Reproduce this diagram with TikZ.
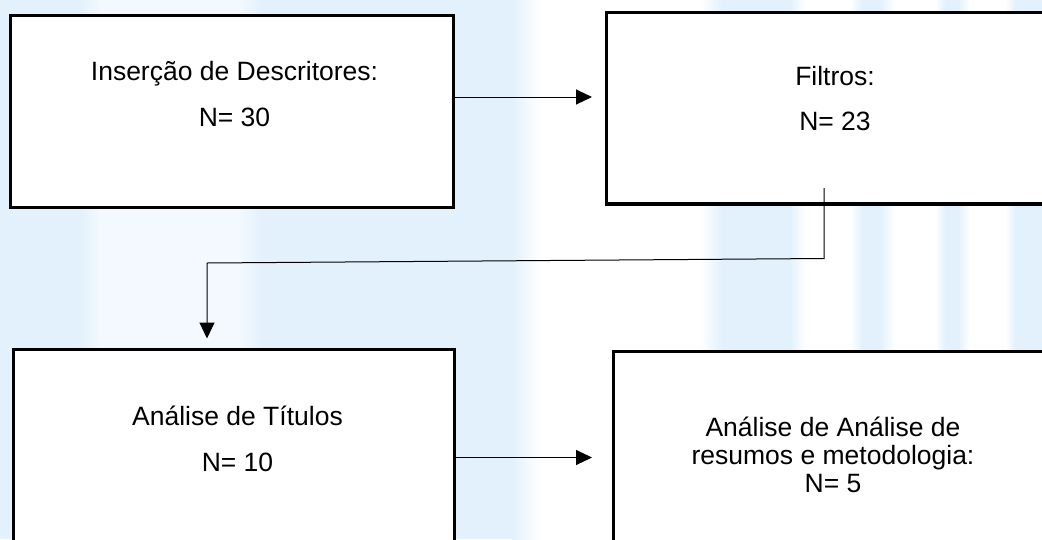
\documentclass[tikz,border=0pt]{standalone}
\usepackage{fontspec}
\setmainfont{Liberation Sans}
\usetikzlibrary{arrows.meta}
\definecolor{bgblue}{HTML}{E3F1FC}
\begin{document}
\begin{tikzpicture}[x=1pt,y=-1pt,
  box/.style={draw=black, line width=3.5pt, fill=white, inner sep=0pt, outer sep=0pt, anchor=north west},
  lbl/.style={align=center, inner sep=0pt, font=\fontsize{26.5pt}{28pt}\selectfont},
  arr/.style={line width=1pt, -{Triangle[length=16pt,width=15pt]}},
  link/.style={line width=1pt}]
\useasboundingbox (0,0) rectangle (1042,539);
\clip (0,0) rectangle (1042,539);
% background watermark
\fill[bgblue] (0,0) rectangle (1042,539);
\shade[left color=bgblue, right color=white] (512,0) rectangle (540,539);
\fill[white] (540,0) rectangle (700,539);
\shade[left color=white, right color=bgblue] (700,0) rectangle (722,539);
\shade[left color=bgblue, right color=white] (790,0) rectangle (805,539);
\fill[white] (805,0) rectangle (850,539);
\shade[left color=white, right color=bgblue] (850,0) rectangle (862,539);
\shade[left color=bgblue, right color=white] (880,0) rectangle (895,539);
\fill[white] (895,0) rectangle (935,539);
\shade[left color=white, right color=bgblue] (935,0) rectangle (945,539);
\shade[left color=bgblue, right color=white] (958,0) rectangle (970,539);
\fill[white] (970,0) rectangle (1005,539);
\shade[left color=white, right color=bgblue] (1005,0) rectangle (1015,539);
\shade[left color=bgblue, right color=white!55!bgblue] (80,0) rectangle (100,539);
\fill[white!55!bgblue] (100,0) rectangle (240,539);
\shade[left color=white!55!bgblue, right color=bgblue] (240,0) rectangle (262,539);
% boxes
\node[box, minimum width=443pt, minimum height=192pt] (b1) at (10.5,15.5) {};
\node[box, minimum width=456.5pt, minimum height=191.5pt] (b2) at (606.5,12.5) {};
\node[box, minimum width=441pt, minimum height=210.5pt] (b3) at (13.5,349.5) {};
\node[box, minimum width=440.5pt, minimum height=210pt] (b4) at (613.5,351.5) {};
% texts (anchor base = baseline of the last line)
\node[lbl, anchor=base] (t1) at (234.5,126.5) {Inserção de Descritores:\\[18.5pt]N= 30};
\node[lbl, anchor=base] (t2) at (835,130) {Filtros:\\[17pt]N= 23};
\node[lbl, anchor=base] (t3) at (237.5,471.5) {Análise de Títulos\\[18.5pt]N= 10};
\node[lbl, anchor=base] (t4) at (833,492) {Análise de Análise de\\resumos e metodologia:\\N= 5};
% connectors
\draw[arr] (b1.east |- 0,97) -- ([xshift=-14.5pt]b2.west |- 0,97);
\draw[arr] (b3.east |- 0,457.5) -- ([xshift=-21.5pt]b4.west |- 0,457.5);
\coordinate (c1) at (824,188);
\coordinate (c2) at (824,258.5);
\coordinate (c3) at (207,263);
\draw[arr] (c1) -- (c2) -- (c3) -- ([yshift=11pt]b3.north -| c3);
\end{tikzpicture}
\end{document}
